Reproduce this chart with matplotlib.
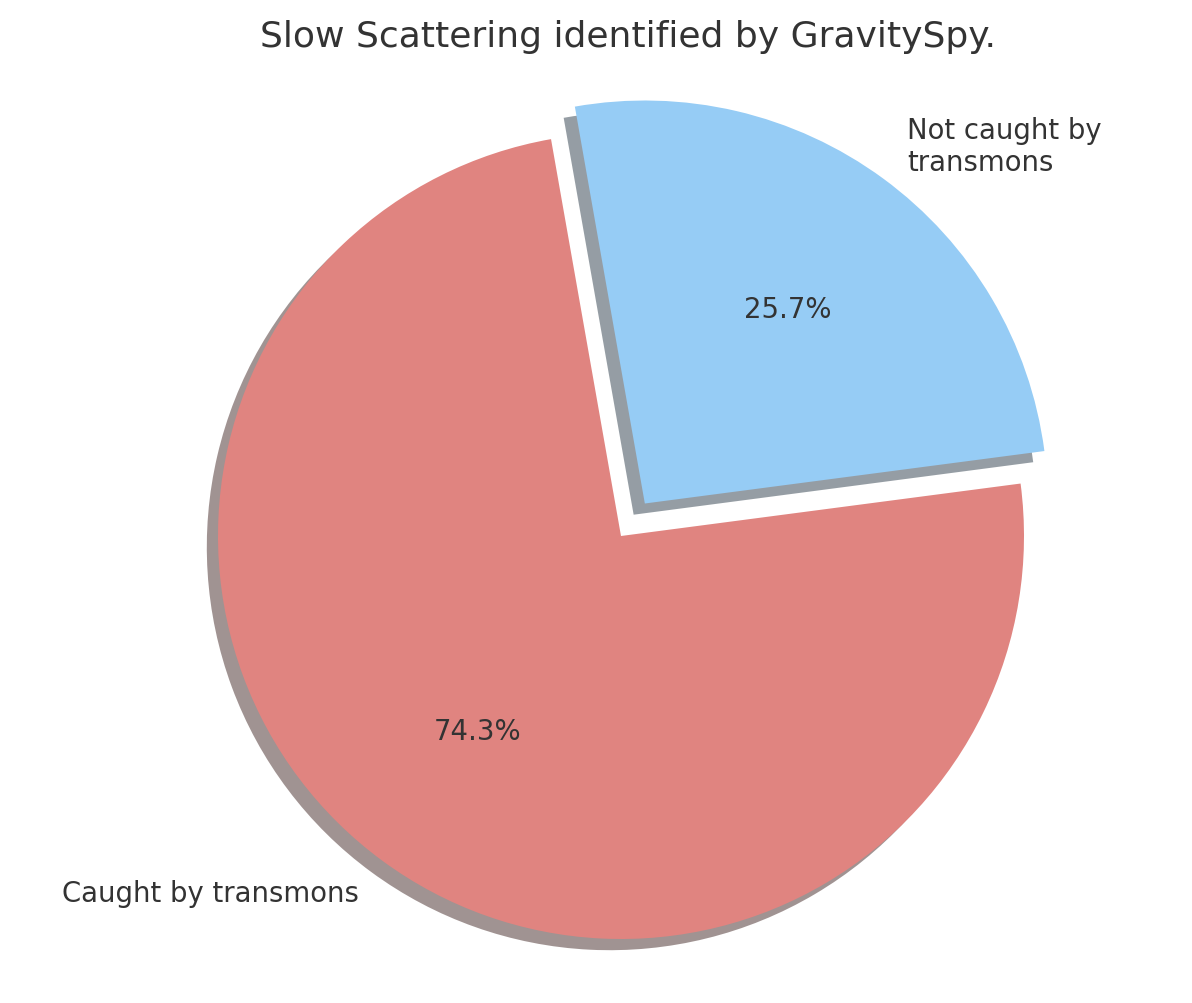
import matplotlib
matplotlib.use('Agg')
import matplotlib.pyplot as plt

# 数据
labels = ['Caught by transmons', 'Not caught by\ntransmons']
sizes = [74.3, 25.7]
colors = ['#e08480', '#96ccf5']
explode = [0, 0.1]

plt.rcParams['font.family'] = ['DejaVu Sans']
plt.rcParams['text.color'] = '#333333'

W, H = 1192, 1004
fig = plt.figure(figsize=(W / 100, H / 100), dpi=100)

# 饼图中心约 (621, 537) px，半径约 403 px，坐标范围 ±1.25
side = 2.5 * 403
cx, cy = 621, 537
ax = fig.add_axes([(cx - side / 2) / W, (H - cy - side / 2) / H, side / W, side / H])

ax.pie(sizes, labels=labels, colors=colors, explode=explode,
       autopct='%1.1f%%', startangle=100,
       shadow={'ox': -0.02, 'oy': -0.02, 'edgecolor': 'none', 'linewidth': 0},
       textprops={'fontsize': 19.8, 'color': '#333333'})
ax.set_xlim(-1.25, 1.25)
ax.set_ylim(-1.25, 1.25)
ax.set_aspect('equal')

# 标题基线约在 y=47 px，中心 x 约 628 px
ax.set_title('Slow Scattering identified by GravitySpy.', fontsize=26,
             color='#333333', pad=0, y=(cy + side / 2 - 47) / side,
             x=(628.5 - (cx - side / 2)) / side)

fig.savefig('out.png', dpi=100)
